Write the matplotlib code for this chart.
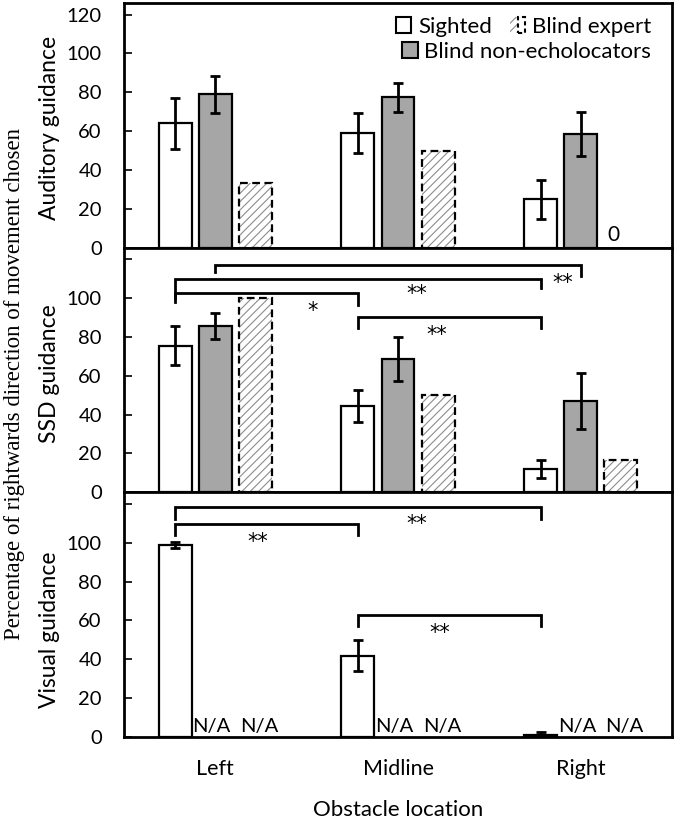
import numpy as np
import matplotlib.pyplot as plt
from matplotlib.patches import Patch
from matplotlib.legend_handler import HandlerTuple

plt.rcParams["font.family"] = ["Lato", "DejaVu Sans"]
plt.rcParams["hatch.linewidth"] = 0.8

locations = ["Left", "Midline", "Right"]
panels = ["Auditory guidance", "SSD guidance", "Visual guidance"]
groups = ["Sighted", "Blind non-echolocators", "Blind expert"]

# per panel (auditory, SSD, visual), per obstacle location
sighted = [[64, 59, 25], [75.5, 44.5, 12], [98.8, 41.8, 1.2]]
sighted_err = [[13, 10.5, 10], [10, 8.3, 4.6], [1.5, 8, 1.5]]
nonecho = [[79, 77.5, 58.5], [85.5, 68.8, 47], None]
nonecho_err = [[9.5, 7.5, 11.5], [6.7, 11.4, 14.6], None]
expert = [[33.3, 50, 0], [100, 50, 16.7], None]

# significance brackets: panel, (location, group) from, (location, group) to,
# bar height, leg ends, label, label x, label y
brackets = [
    (1, (0, 1), (2, 1), 117.3, (113.5, 111.5), "**", 1.90, 111),
    (1, (0, 0), (2, 0), 110.0, (100.0, 105.2), "**", 1.10, 105.7),
    (1, (0, 0), (1, 0), 102.8, (97.9, 96.5), "*", 0.53, 97),
    (1, (1, 0), (2, 0), 90.1, (84.6, 84.6), "**", 1.21, 84.4),
    (2, (0, 0), (2, 0), 118.2, (112.5, 112.5), "**", 1.10, 113),
    (2, (0, 0), (1, 0), 109.7, (104.0, 104.0), "**", 0.23, 104),
    (2, (1, 0), (2, 0), 62.6, (57.0, 57.0), "**", 1.23, 57),
]

x = np.arange(len(locations))
offsets = [-0.22, 0.0, 0.22]
w = 0.18
grey = "#a6a6a6"
lw = 1.6
err_kw = dict(ecolor="black", elinewidth=2, capsize=3.5, capthick=2)

fig = plt.figure(figsize=(6.75, 8.22), dpi=100)
gs = fig.add_gridspec(3, 1, left=0.1837, right=0.9956, top=0.9964,
                      bottom=0.1034, hspace=0)
axes = [fig.add_subplot(gs[i]) for i in range(3)]

for i, ax in enumerate(axes):
    ax.bar(x + offsets[0], sighted[i], w, yerr=sighted_err[i],
           color="white", edgecolor="black", linewidth=lw, error_kw=err_kw,
           zorder=2)
    if nonecho[i] is not None:
        ax.bar(x + offsets[1], nonecho[i], w, yerr=nonecho_err[i],
               color=grey, edgecolor="black", linewidth=lw, error_kw=err_kw,
               zorder=2)
        ax.bar(x + offsets[2], expert[i], w, color="white",
               edgecolor="#8c8c8c", hatch="////", linewidth=0, zorder=2)
        for xi, v in zip(x, expert[i]):
            if v > 0:
                ax.bar(xi + offsets[2], v, w, fill=False, edgecolor="black",
                       linewidth=lw, linestyle=(0, (3.5, 2)), zorder=3)
            else:
                ax.text(xi + offsets[2] - 0.04, 1.5, "0", ha="center",
                        va="bottom", fontsize=15)
    else:
        for xi in x:
            for k in (1, 2):
                ax.text(xi + offsets[k] + 0.02 * (k * 2 - 3), 0.8, "N/A",
                        ha="center", va="bottom", fontsize=14.5)

    ax.set_xlim(-0.5, 2.5)
    ax.set_ylim(0, 126)
    ax.set_yticks(np.arange(0, 121, 20))
    if i == 0:
        ax.set_yticklabels([str(t) for t in range(0, 121, 20)])
    else:
        ax.set_yticklabels([str(t) for t in range(0, 101, 20)] + [""])
    ax.tick_params(axis="y", direction="in", length=6, width=1.2, pad=16,
                   labelsize=14.5)
    for s in ax.spines.values():
        s.set_linewidth(2)
    if i < 2:
        ax.set_xticks([])
    else:
        ax.set_xticks(x)
        ax.set_xticklabels(locations)
        ax.tick_params(axis="x", length=0, pad=16, labelsize=15.5)
        ax.set_xlabel("Obstacle location", fontsize=16, labelpad=15)

for p, (l1, g1), (l2, g2), y, (e1, e2), lab, lx, ly in brackets:
    ax = axes[p]
    x1 = x[l1] + offsets[g1]
    x2 = x[l2] + offsets[g2]
    ax.plot([x1, x1, x2, x2], [e1, y, y, e2], color="black", lw=2,
            solid_joinstyle="miter", zorder=4)
    ax.text(lx, ly - 6.5, lab, ha="center", va="baseline", fontsize=15,
            family=["DejaVu Sans"])

# legend in two rows as in the original
h_s = Patch(facecolor="white", edgecolor="black", linewidth=1.5)
h_n = Patch(facecolor=grey, edgecolor="black", linewidth=1.5)
h_e = (Patch(facecolor="white", edgecolor="#8c8c8c", hatch="////", linewidth=0),
       Patch(facecolor="none", edgecolor="black", linewidth=1.5,
             linestyle=(0, (2, 1.5))))
leg_kw = dict(frameon=False, fontsize=16, handlelength=0.7,
              handleheight=0.7, handletextpad=0.3, borderpad=0,
              borderaxespad=0, columnspacing=0.8, loc="center right")
leg1 = axes[0].legend([h_s, h_e], [groups[0], groups[2]], ncol=2,
                      bbox_to_anchor=(0.962, 0.902),
                      handler_map={tuple: HandlerTuple(ndivide=None, pad=0)},
                      **leg_kw)
axes[0].add_artist(leg1)
axes[0].legend([h_n], [groups[1]], bbox_to_anchor=(0.962, 0.80), **leg_kw)

label_y = [1 - 128 / 822, 1 - 374 / 822, 1 - 630 / 822]
for name, yy in zip(panels, label_y):
    fig.text(0.074, yy, name, rotation=90, ha="center", va="center",
             fontsize=16.5)

fig.text(0.022, 0.533, "Percentage of rightwards direction of movement chosen",
         rotation=90, ha="center", va="center", fontsize=16.5,
         family=["Liberation Serif", "DejaVu Serif"])

fig.savefig("out.png", dpi=100)
